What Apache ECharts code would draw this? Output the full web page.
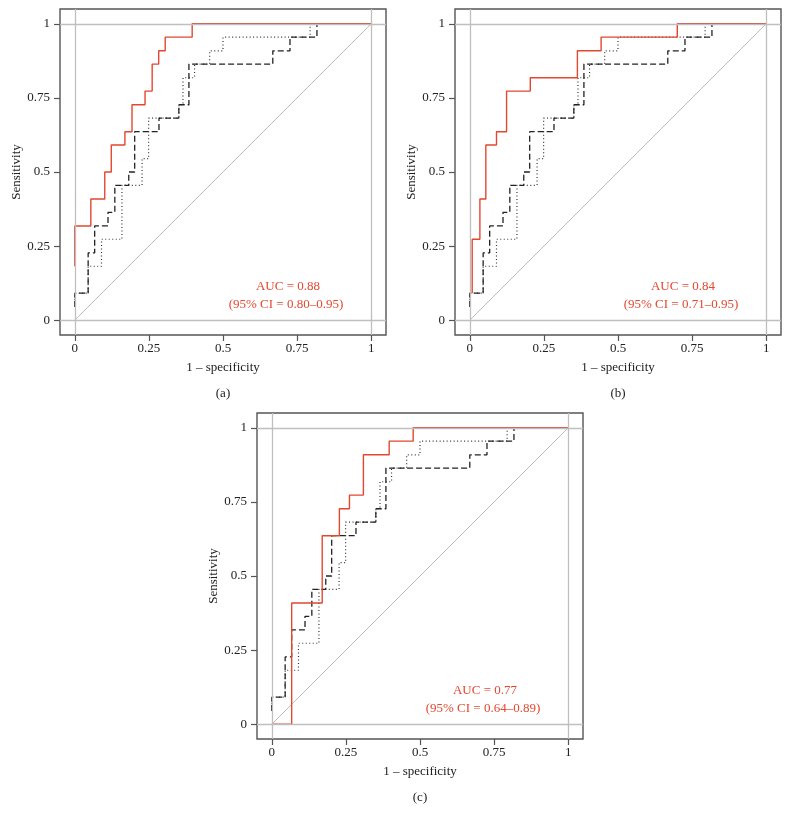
<!DOCTYPE html>
<html>
<head>
<meta charset="utf-8">
<script src="https://cdn.jsdelivr.net/npm/echarts@6/dist/echarts.min.js"></script>
<style>
html,body{margin:0;padding:0;background:#fff;}
#chart{width:790px;height:824px;}
</style>
</head>
<body>
<div id="chart"></div>
<script>
// Tick values shared by both axes
const tickValues = [0, 0.25, 0.5, 0.75, 1];

// Red ROC curves (step corners: vertical first, then horizontal)
const redA_fpr = [0, 0.054, 0.101, 0.123, 0.169, 0.193, 0.237, 0.261, 0.283, 0.305, 0.396, 1];
const redA_tpr = [0.182, 0.318, 0.409, 0.5, 0.591, 0.636, 0.727, 0.773, 0.864, 0.909, 0.955, 1];

const redB_fpr = [0.008, 0.034, 0.054, 0.09, 0.124, 0.204, 0.363, 0.443, 0.70, 1];
const redB_tpr = [0.091, 0.273, 0.409, 0.591, 0.636, 0.773, 0.818, 0.909, 0.955, 1];

const redC_fpr = [0, 0.067, 0.17, 0.228, 0.262, 0.309, 0.396, 0.477, 1];
const redC_tpr = [0, 0, 0.409, 0.636, 0.727, 0.773, 0.909, 0.955, 1];

// Black dashed comparison curve (same in every panel)
const dashed_fpr = [0, 0.045, 0.067, 0.112, 0.135, 0.182, 0.202, 0.284, 0.351, 0.385, 0.668, 0.726, 0.817, 1];
const dashed_tpr = [0.045, 0.091, 0.227, 0.318, 0.364, 0.455, 0.5, 0.636, 0.682, 0.727, 0.864, 0.909, 0.955, 1];

// Black dotted comparison curve (same in every panel)
const dotted_fpr = [0, 0.045, 0.09, 0.159, 0.227, 0.249, 0.351, 0.365, 0.404, 0.455, 0.5, 0.794, 1];
const dotted_tpr = [0.045, 0.091, 0.182, 0.273, 0.455, 0.545, 0.682, 0.727, 0.818, 0.864, 0.909, 0.955, 1];

// Chance diagonal
const diag_fpr = [0, 1];
const diag_tpr = [0, 1];

// Annotations
const panelLabels = ['(a)', '(b)', '(c)'];
const aucTexts = ['AUC = 0.88', 'AUC = 0.84', 'AUC = 0.77'];
const ciTexts = ['(95% CI = 0.80–0.95)', '(95% CI = 0.71–0.95)', '(95% CI = 0.64–0.89)'];

const redCurves = [[redA_fpr, redA_tpr], [redB_fpr, redB_tpr], [redC_fpr, redC_tpr]];

const zip = (xs, ys) => xs.map((x, i) => [x, ys[i]]);

const FONT = "'Liberation Serif', 'DejaVu Serif', serif";
const FS = 13;
const RED = '#e4472f';
const GRAY = '#bfbfbf';
const BOX = 326;
const gridPos = [
  {left: 60, top: 9},
  {left: 455, top: 9},
  {left: 257, top: 413}
];

const grids = [], xAxes = [], yAxes = [], series = [], graphics = [];

gridPos.forEach((g, i) => {
  grids.push({left: g.left, top: g.top, width: BOX, height: BOX, show: true,
    borderColor: '#555', borderWidth: 1.4, backgroundColor: 'transparent'});
  const axisCommon = {
    type: 'value', gridIndex: i, min: -0.05, max: 1.05,
    axisLine: {show: false, onZero: false},
    splitLine: {show: false},
    axisTick: {show: true, inside: false, length: 6, customValues: tickValues,
      lineStyle: {color: '#555', width: 1.2}},
    axisLabel: {customValues: tickValues, color: '#222', fontFamily: FONT, fontSize: FS,
      formatter: v => String(v)},
    nameLocation: 'middle',
    nameTextStyle: {fontFamily: FONT, fontSize: FS, color: '#222'}
  };
  xAxes.push(Object.assign({}, axisCommon, {
    position: 'bottom',
    name: '1 – specificity', nameGap: 26,
    axisLabel: Object.assign({}, axisCommon.axisLabel, {margin: 7})
  }));
  yAxes.push(Object.assign({}, axisCommon, {
    position: 'left',
    name: 'Sensitivity', nameGap: 37,
    axisLabel: Object.assign({}, axisCommon.axisLabel, {margin: 10})
  }));

  // Diagonal plus reference lines
  series.push({
    type: 'line', xAxisIndex: i, yAxisIndex: i, data: zip(diag_fpr, diag_tpr),
    symbol: 'none', silent: true,
    lineStyle: {color: GRAY, width: 1},
    markLine: {
      silent: true, symbol: 'none', label: {show: false},
      lineStyle: {color: GRAY, width: 1.3, type: 'solid'},
      data: [{xAxis: 0}, {xAxis: 1}, {yAxis: 0}, {yAxis: 1}]
    },
    z: 1
  });
  series.push({
    type: 'line', xAxisIndex: i, yAxisIndex: i, data: zip(dotted_fpr, dotted_tpr),
    step: 'start', symbol: 'none', silent: true,
    lineStyle: {color: '#333', width: 1.2, type: [1, 2.5]}, z: 2
  });
  series.push({
    type: 'line', xAxisIndex: i, yAxisIndex: i, data: zip(dashed_fpr, dashed_tpr),
    step: 'start', symbol: 'none', silent: true,
    lineStyle: {color: '#222', width: 1.3, type: [6, 3]}, z: 3
  });
  series.push({
    type: 'line', xAxisIndex: i, yAxisIndex: i, data: zip(redCurves[i][0], redCurves[i][1]),
    step: 'start', symbol: 'none', silent: true,
    lineStyle: {color: RED, width: 1.4}, z: 4
  });

  const right = g.left + BOX, bottom = g.top + BOX, cx = g.left + BOX / 2;
  graphics.push({type: 'text', x: right - 98, y: bottom - 48, style: {
    text: aucTexts[i], fill: RED, font: FS + 'px ' + FONT, align: 'center', verticalAlign: 'middle'}});
  graphics.push({type: 'text', x: right - 100, y: bottom - 30, style: {
    text: ciTexts[i], fill: RED, font: FS + 'px ' + FONT, align: 'center', verticalAlign: 'middle'}});
  graphics.push({type: 'text', x: cx, y: bottom + 59, style: {
    text: panelLabels[i], fill: '#222', font: FS + 'px ' + FONT, align: 'center', verticalAlign: 'middle'}});
});

const chart = echarts.init(document.getElementById('chart'), null, {renderer: 'canvas'});
chart.setOption({
  animation: false,
  backgroundColor: '#fff',
  textStyle: {fontFamily: FONT},
  grid: grids, xAxis: xAxes, yAxis: yAxes, series: series,
  graphic: graphics
});
</script>
</body>
</html>
